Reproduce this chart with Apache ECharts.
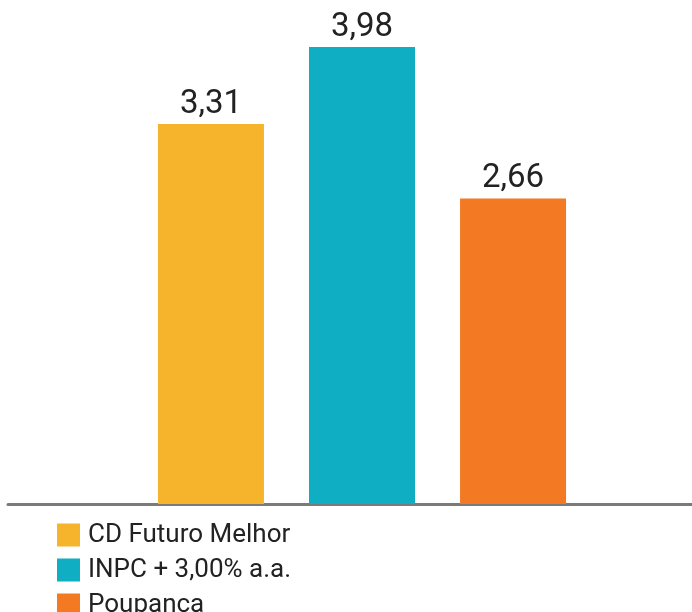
<!doctype html>
<html>
    <head>
        <meta charset="utf-8">
        <title>CD Futuro Melhor</title>
        <style>
            html, body { margin: 0; padding: 0; background: #fff; }
            #main { width: 692px; height: 612px; }
        </style>
    </head>
    <body>
        <div id="main"></div>
        <script src="https://cdn.jsdelivr.net/npm/echarts@6/dist/echarts.min.js"></script>
        <script>

            var seriesNames = ['CD Futuro Melhor', 'INPC + 3,00% a.a.', 'Poupança'];
            var seriesValues = [3.31, 3.98, 2.66];
            var seriesColors = ['#F6B42C', '#0FAEC3', '#F37A23'];

            var myChart = echarts.init(document.getElementById('main'));

            var series = seriesNames.map(function (name, i) {
                return {
                    type: 'bar',
                    name: name,
                    xAxisIndex: 0,
                    yAxisIndex: 0,
                    barWidth: 106,
                    barGap: '42.5%',
                    itemStyle: { color: seriesColors[i] },
                    label: {
                        show: true,
                        position: 'top',
                        distance: 3,
                        color: '#222',
                        fontFamily: 'Roboto',
                        fontSize: 33,
                        formatter: function (p) {
                            return p.value.toFixed(2).replace('.', ',');
                        }
                    },
                    data: [seriesValues[i]]
                };
            });

            myChart.setOption({
                animation: false,
                grid: [
                    { left: 32, right: 0, top: 0, bottom: 108 },
                    // only draws the baseline across the full width
                    { left: 8, right: 0, top: 0, bottom: 108 }
                ],
                legend: {
                    orient: 'vertical',
                    left: 57,
                    top: 522,
                    height: 200,
                    padding: 0,
                    itemWidth: 23,
                    itemHeight: 23,
                    itemGap: 9,
                    icon: 'rect',
                    selectedMode: false,
                    textStyle: {
                        color: '#222',
                        fontFamily: 'Roboto',
                        fontSize: 26,
                        lineHeight: 23,
                        padding: [0, 0, 0, 3]
                    },
                    data: seriesNames
                },
                xAxis: [{
                    type: 'category',
                    gridIndex: 0,
                    data: [''],
                    axisLine: { show: false },
                    axisTick: { show: false },
                    axisLabel: { show: false }
                }, {
                    type: 'category',
                    gridIndex: 1,
                    data: [''],
                    axisLine: { show: true, lineStyle: { color: '#7a7a7a', width: 3 } },
                    axisTick: { show: false },
                    axisLabel: { show: false }
                }],
                yAxis: [{
                    type: 'value',
                    gridIndex: 0,
                    min: 0,
                    max: 4.39,
                    show: false,
                    splitLine: { show: false }
                }, {
                    type: 'value',
                    gridIndex: 1,
                    min: 0,
                    max: 4.39,
                    show: false,
                    splitLine: { show: false }
                }],
                series: series
            });

        </script>
    </body>
</html>
